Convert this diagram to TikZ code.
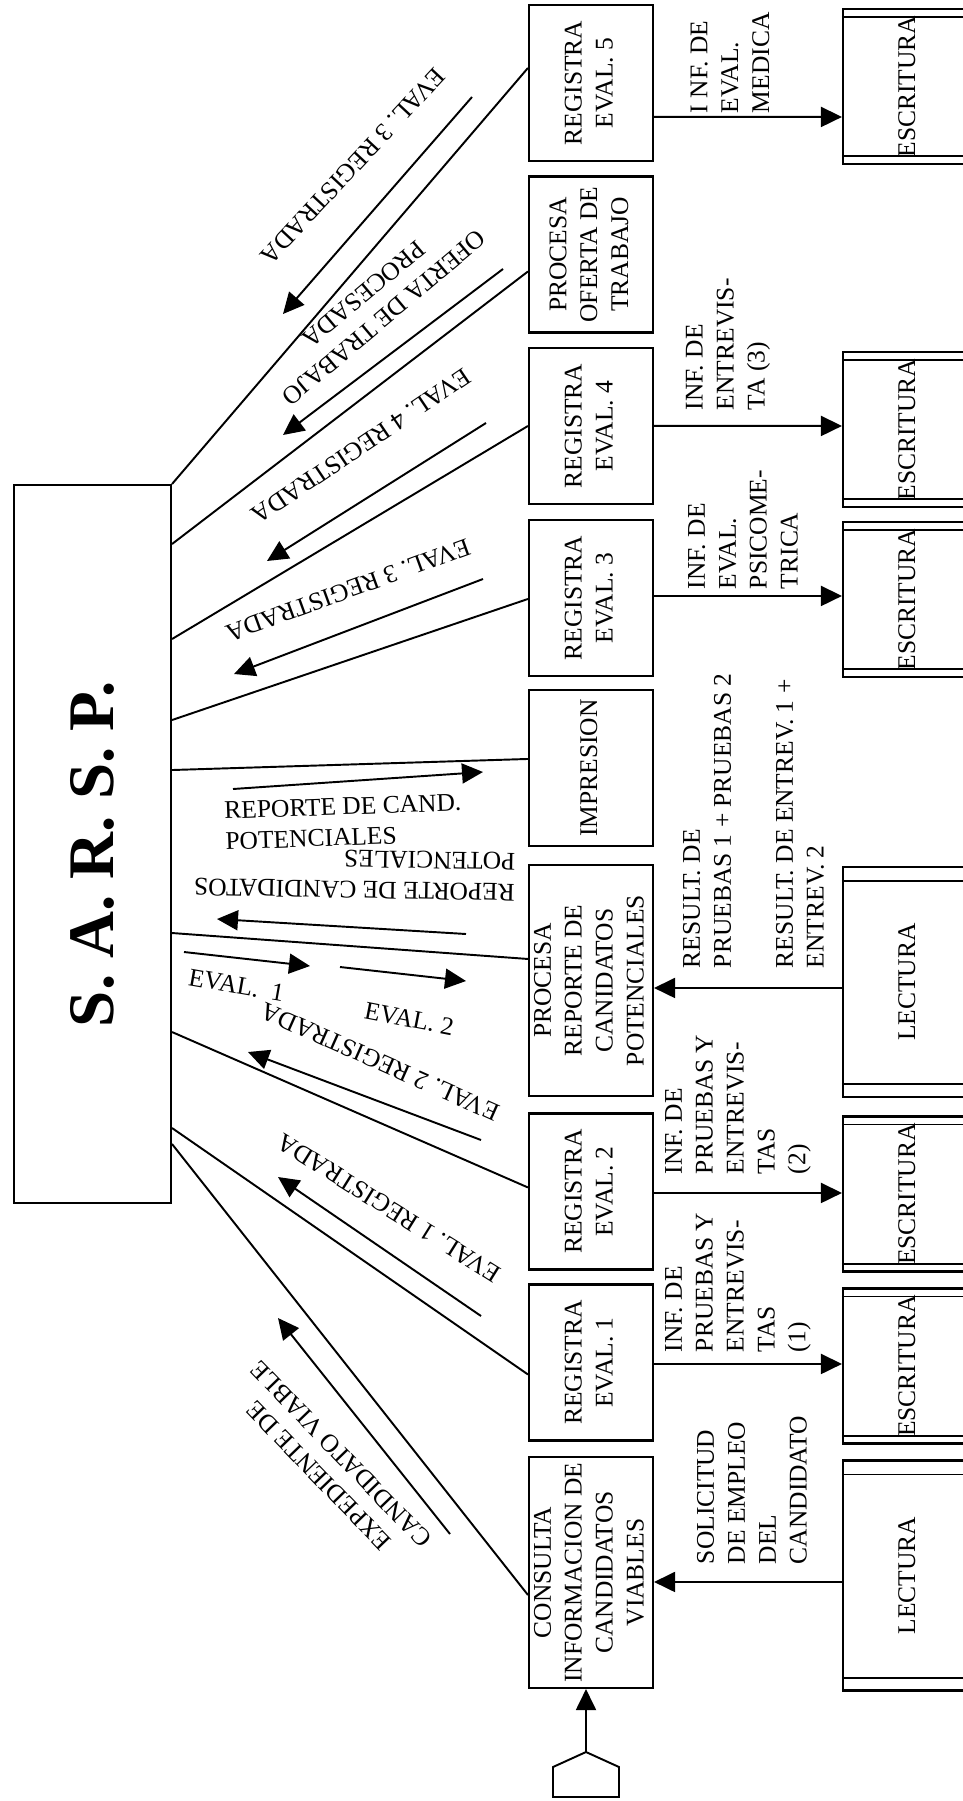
\documentclass[tikz,border=0pt]{standalone}
\usepackage{fontspec}
\setmainfont{Liberation Serif}
\usepackage{graphicx}
\usetikzlibrary{arrows.meta,calc}

\newcommand{\vtxt}[1]{\rotatebox{90}{\begin{tabular}{@{}c@{}}#1\end{tabular}}}

\begin{document}
\begin{tikzpicture}[x=0.02cm,y=-0.02cm,line width=1.1pt,
  every node/.style={font=\fontsize{14.5}{17.6}\selectfont,inner sep=0pt},
  pbox/.style={draw,line width=1.2pt,minimum width=2.48cm,minimum height=3.12cm},
  pbig/.style={pbox,minimum height=4.62cm},
  fbox/.style={draw,line width=1.2pt,minimum width=2.64cm,minimum height=3.1cm},
  fbig/.style={fbox,minimum height=4.6cm},
  lbl/.style={align=left,anchor=west,rotate=90},
  flow/.style={-{Triangle[length=0.42cm,width=0.4cm]}}]
\useasboundingbox (0,0) rectangle (963,1801);

\node[draw,line width=1.2pt,minimum width=3.14cm,minimum height=14.36cm] (sarsp) at (92.5,844)
  {\rotatebox{90}{\fontsize{37}{40}\selectfont\bfseries S. A. R. S. P.\hspace{0.4cm}}};

\node[pbox] (e5) at (591,83) {\vtxt{REGISTRA\\EVAL. 5}};
\node[pbox] (of) at (591,254.5) {\vtxt{PROCESA\\OFERTA DE\\TRABAJO}};
\node[pbox] (e4) at (591,426) {\vtxt{REGISTRA\\EVAL. 4}};
\node[pbox] (e3) at (591,598) {\vtxt{REGISTRA\\EVAL. 3}};
\node[pbox] (im) at (591,768) {\vtxt{IMPRESION}};
\node[pbig] (pr) at (591,980.5) {\vtxt{PROCESA\\REPORTE DE\\CANIDATOS\\POTENCIALES}};
\node[pbox] (e2) at (591,1191.5) {\vtxt{REGISTRA\\EVAL. 2}};
\node[pbox] (e1) at (591,1362.5) {\vtxt{REGISTRA\\EVAL. 1}};
\node[pbig] (co) at (591,1572.5) {\vtxt{CONSULTA\\INFORMACION DE\\CANDIDATOS\\VIABLES}};

\node[fbox] (f5) at (909,86.5) {\vtxt{ESCRITURA}\hspace{0.44cm}};
\node[fbox] (f4) at (909,429.5) {\vtxt{ESCRITURA}\hspace{0.44cm}};
\node[fbox] (f3) at (909,599.5) {\vtxt{ESCRITURA}\hspace{0.44cm}};
\node[fbig] (fl1) at (909,982) {\vtxt{LECTURA}\hspace{0.44cm}};
\node[fbox] (f2) at (909,1194) {\vtxt{ESCRITURA}\hspace{0.44cm}};
\node[fbox] (f1) at (909,1366) {\vtxt{ESCRITURA}\hspace{0.44cm}};
\node[fbig] (fl2) at (909,1575.5) {\vtxt{LECTURA}\hspace{0.44cm}};
\foreach \f in {f5,f4,f3,f2,f1}{
  \draw ($(\f.north west)+(0,9)$) -- ($(\f.north east)+(0,9)$);
  \draw ($(\f.south west)+(0,-9)$) -- ($(\f.south east)+(0,-9)$);
}
\foreach \f in {fl1,fl2}{
  \draw ($(\f.north west)+(0,15)$) -- ($(\f.north east)+(0,15)$);
  \draw ($(\f.south west)+(0,-14)$) -- ($(\f.south east)+(0,-14)$);
}

\draw (sarsp.north east) -- ($(e5.north west)+(0,64)$);
\draw ($(sarsp.north east)+(0,60)$) -- ($(of.north west)+(0,96)$);
\draw ($(sarsp.north east)+(0,155)$) -- ($(e4.north west)+(0,79)$);
\draw ($(sarsp.north east)+(0,236)$) -- ($(e3.north west)+(0,80)$);
\draw ($(sarsp.north east)+(0,286)$) -- ($(im.north west)+(0,70)$);
\draw ($(sarsp.north east)+(0,449)$) -- ($(pr.north west)+(0,95)$);
\draw ($(sarsp.north east)+(0,548)$) -- ($(e2.north west)+(0,75)$);
\draw ($(sarsp.north east)+(0,644)$) -- ($(e1.north west)+(0,91)$);
\draw ($(sarsp.north east)+(0,660)$) -- ($(co.north west)+(0,139)$);

\draw[flow] ($(e5.north east)+(0,113)$) -- ($(f5.north west)+(0,109)$);
\draw[flow] ($(e4.north east)+(0,79)$) -- ($(f4.north west)+(0,75)$);
\draw[flow] ($(e3.north east)+(0,77)$) -- ($(f3.north west)+(0,75)$);
\draw[flow] ($(fl1.north west)+(0,122)$) -- ($(pr.north east)+(0,124)$);
\draw[flow] ($(e2.north east)+(0,80.5)$) -- ($(f2.north west)+(0,77.5)$);
\draw[flow] ($(e1.north east)+(0,80.5)$) -- ($(f1.north west)+(0,76.5)$);
\draw[flow] ($(fl2.north west)+(0,122.5)$) -- ($(co.north east)+(0,126)$);

\node[lbl] at (730,114) {I NF. DE\\EVAL.\\MEDICA};
\node[lbl] at (728,411) {INF. DE\\ENTREVIS-\\TA (3)};
\node[lbl] at (743,590) {INF. DE\\EVAL.\\PSICOME-\\TRICA};
\node[lbl] at (707,969) {RESULT. DE\\PRUEBAS 1 + PRUEBAS 2};
\node[lbl] at (800,969) {RESULT. DE ENTREV. 1 +\\ENTREV. 2};
\node[lbl] at (738,1175) {INF. DE\\PRUEBAS Y\\ENTREVIS-\\TAS\\(2)};
\node[lbl] at (738,1353) {INF. DE\\PRUEBAS Y\\ENTREVIS-\\TAS\\(1)};
\node[lbl] at (752,1565) {SOLICITUD\\DE EMPLEO\\DEL\\CANDIDATO};

\foreach \n/\sx/\sy/\ex/\ey in {ra/472/97/283/314, rb/503/269/283/435, rc/486/423/267/561,
  rd/483/579/234/674, re/233/789/483/772, rf/466/934/217/919, rg/184/952/310/966,
  rh/340/967/466/981, ri/481/1140/248/1052, rj/481/1316/278/1177, rk/450/1534/278/1318}{
  \coordinate (\n1) at (\sx,\sy);
  \coordinate (\n2) at (\ex,\ey);
  \draw[flow] (\n1) -- (\n2);
}

\node[rotate=-133] at (353,166) {EVAL. 3 REGISTRADA};
\node[rotate=-140,align=center] at (374,306) {OFERTA DE TRABAJO\\PROCESADA};
\node[rotate=-146] at (361,446) {EVAL. 4 REGISTRADA};
\node[rotate=-160] at (348,590) {EVAL. 3 REGISTRADA};
\node[rotate=2,anchor=west,align=left] at (224,826) {REPORTE DE CAND.\\POTENCIALES};
\node[rotate=179,anchor=west,align=left] at (516,877) {REPORTE DE CANDIDATOS\\POTENCIALES};
\node[rotate=-10,anchor=west] at (188,977) {EVAL.\ \ 1};
\node[rotate=-11,anchor=west] at (364,1010) {EVAL. 2};
\node[rotate=156] at (380,1062) {EVAL. 2 REGISTRADA};
\node[rotate=148] at (389,1208) {EVAL. 1 REGISTRADA};
\node[rotate=134,align=center] at (330,1465) {EXPEDIENTE DE\\CANDIDATO VIABLE};

\draw (553,1797) -- (553,1767) -- (586,1752) -- (619,1767) -- (619,1797) -- cycle;
\coordinate (conn) at (586,1752);
\draw[flow] (conn) -- (conn |- co.south);
\end{tikzpicture}
\end{document}
